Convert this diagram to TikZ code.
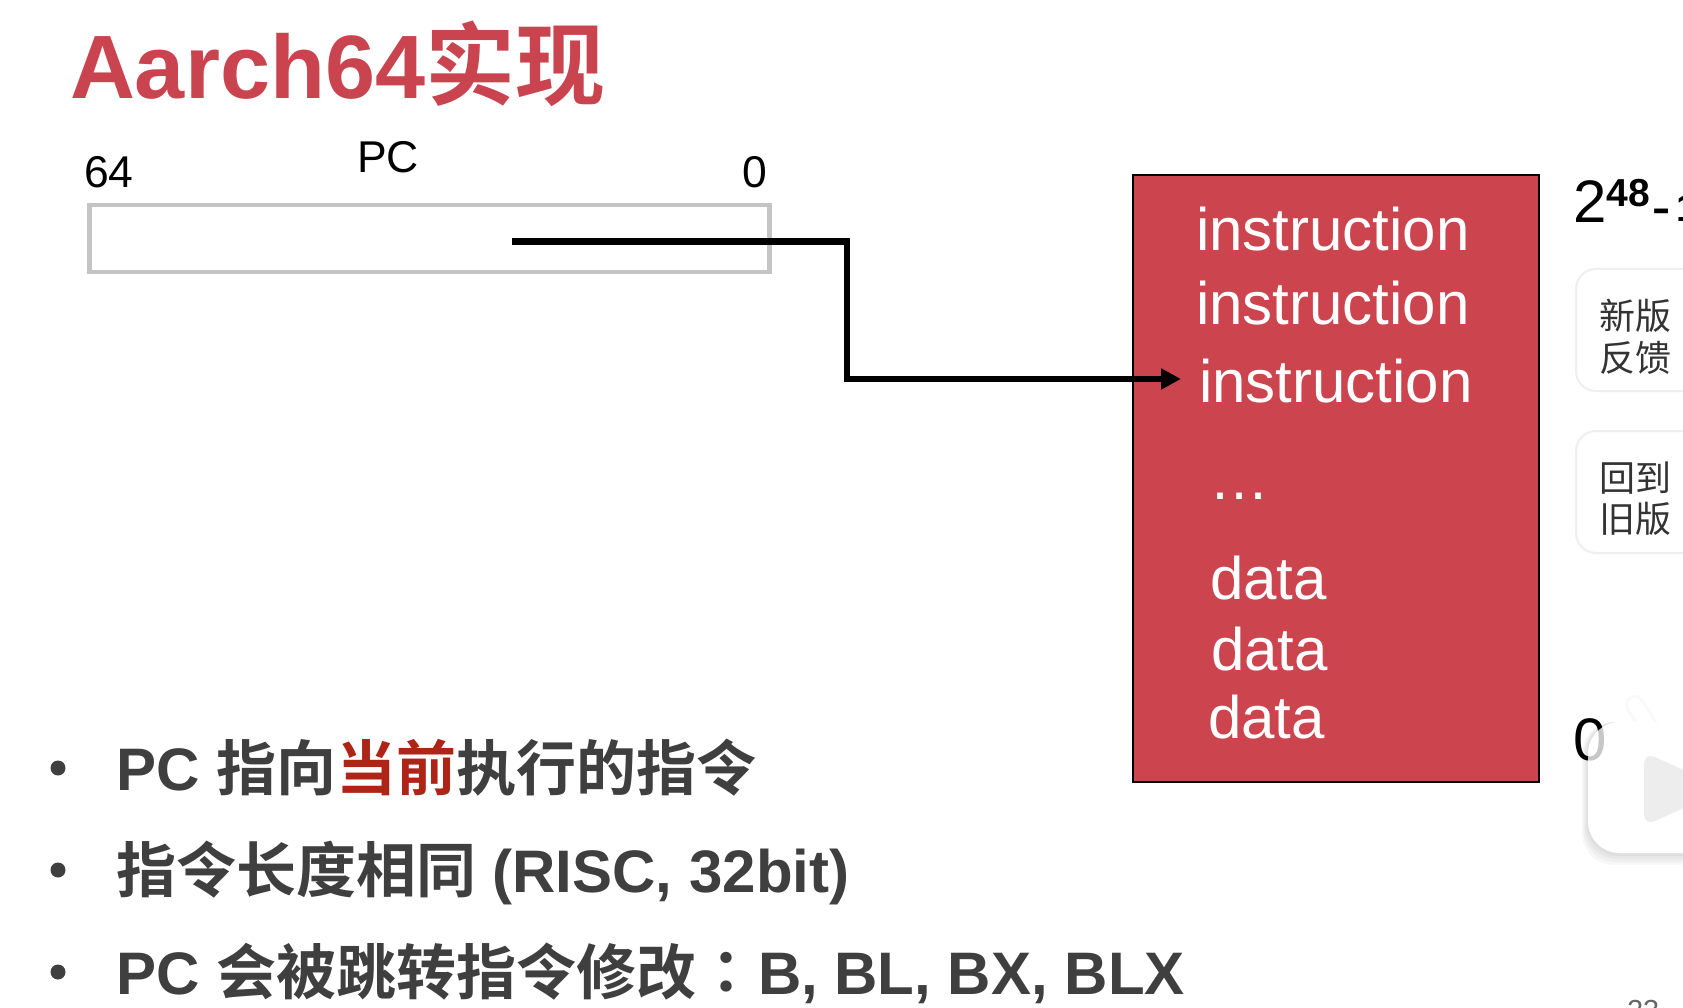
\documentclass[tikz,border=0pt]{standalone}
\usepackage{fontspec}
\usetikzlibrary{arrows.meta}
\setmainfont{Liberation Sans}
\newfontfamily\cjkbold[BoldFont=*]{Noto Sans CJK SC Bold}
\newfontfamily\cjkboldtc[BoldFont=*]{Noto Sans CJK TC Bold}
\newfontfamily\cjkreg{Noto Sans CJK SC}
\definecolor{brick}{HTML}{CC454E}
\definecolor{titlered}{HTML}{C9444E}
\definecolor{bodygray}{HTML}{3F3F3F}
\definecolor{accent}{HTML}{AE2517}
\definecolor{cardline}{HTML}{EEEFF1}
\definecolor{regline}{HTML}{C4C4C4}
\newcommand{\fs}[1]{\fontsize{#1}{#1}\selectfont}
\newcommand{\zh}[1]{{\cjkbold #1}}
\tikzset{
  txt/.style={inner sep=0pt,outer sep=0pt,anchor=base west},
  titletext/.style={txt,text=titlered,font=\fs{90}\bfseries},
  memtext/.style={txt,text=white,font=\fs{60}},
  labeltext/.style={txt,text=black,font=\fs{44.5}},
  bullettext/.style={txt,text=bodygray,font=\fs{60}\bfseries},
  sidetext/.style={txt,text=black,font=\fs{60}},
  cardtext/.style={inner sep=0pt,text=black!80,font=\fs{36}\cjkreg,anchor=center},
  cardbox/.style={draw=cardline,line width=2pt,fill=white,rounded corners=20pt},
  dotmark/.style={circle,fill=bodygray,minimum size=15pt,inner sep=0pt},
  link/.style={line width=6.5pt,draw=black,-{Triangle[length=20pt,width=20pt]}},
  badge/.style={rounded corners=32pt}
}
\begin{document}
\begin{tikzpicture}[x=1pt,y=-1pt]
\useasboundingbox (0,0) rectangle (1683,1008);
\clip (0,0) rectangle (1683,1008);
\fill[white] (0,0) rectangle (1683,1008);

\node[titletext] (title) at (70,99) {Aarch64\zh{实现}};

% register
\node[draw=regline,line width=4.5pt,fill=white,minimum width=680pt,minimum height=67pt,inner sep=0pt,anchor=north west] (pcreg) at (87,203) {};
\node[labeltext] (lblhi) at (84,188) {64};
\node[labeltext] (lblpc) at (357,173) {PC};
\node[labeltext] (lbllo) at (742,188) {0};

% memory
\node[draw=black,line width=2pt,fill=brick,minimum width=405.5pt,minimum height=607pt,inner sep=0pt,anchor=north west] (mem) at (1132,174) {};
\node[memtext] (i1) at (1196,251) {instruction};
\node[memtext] (i2) at (1196,324) {instruction};
\node[memtext] (i3) at (1199,402) {instruction};
\node[memtext] (dots) at (1209,499) {…};
\node[memtext] (d1) at (1210,599) {data};
\node[memtext] (d2) at (1211,670) {data};
\node[memtext] (d3) at (1208,738) {data};

% connector
\coordinate (pcval) at (512,241.5);
\coordinate (elbow) at (847,379);
\coordinate (target) at (1181,379);
\draw[link] (pcval) -| (elbow) -- (target);

% bullets
\node[dotmark] (b1) at (58,768) {};
\node[dotmark] (b2) at (58,870) {};
\node[dotmark] (b3) at (58,972) {};
\node[bullettext] (t1) at (116,790) {PC \zh{指向}{\cjkbold\color{accent}当前}\zh{执行的指令}};
\node[bullettext] (t2) at (116,892) {\zh{指令长度相同} (RISC, 32bit)};
\node[bullettext] (t3) at (116,994) {PC \zh{会被跳转指令修改}{\cjkboldtc ：}\hspace{2pt}B, BL, BX, BLX};

% right edge
\node[sidetext] (top) at (1573,223) {2\raisebox{16pt}{\fs{39}\bfseries 48}\raisebox{1pt}{\fs{39}\bfseries\hspace{3pt}\scalebox{1.4}[1]{-}\hspace{6pt}1}};
\node[cardbox,minimum width=160pt,minimum height=122pt,anchor=north west] (card1) at (1575,268) {};
\node[cardtext] (c1a) at (1635,316) {新版};
\node[cardtext] (c1b) at (1635,358) {反馈};
\node[cardbox,minimum width=160pt,minimum height=122pt,anchor=north west] (card2) at (1575,430) {};
\node[cardtext] (c2a) at (1635,478) {回到};
\node[cardtext] (c2b) at (1635,519) {旧版};

% video player badge
\foreach \g in {12,9,6,3}
  \fill[black,opacity=0.03,badge] (1588-\g*.5,722) rectangle (1760,853+\g);
\draw[black,opacity=.025,line width=20pt,line cap=round] (1635,705) -- (1652,732);
\draw[white,line width=14pt,line cap=round] (1635,705) -- (1652,732);
\fill[white,badge] (1588,722) rectangle (1760,853);
\node[sidetext] (zero) at (1573,760) {0};
\fill[white,opacity=.78,badge] (1588,722) rectangle (1760,853);
\fill[black!7,rounded corners=12pt] (1644,752) -- (1644,826) -- (1725,789) -- cycle;

\node[txt,text=black!60,font=\fs{29}] (page) at (1627,1020) {23};
\end{tikzpicture}
\end{document}
